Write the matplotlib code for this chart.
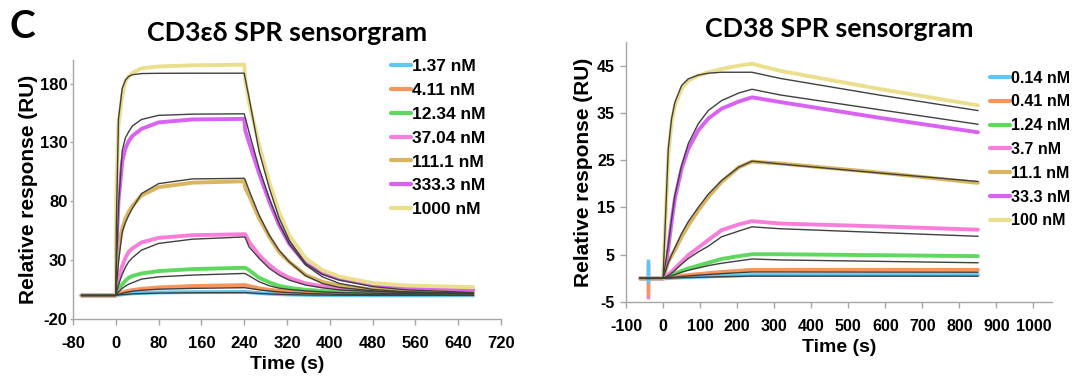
import matplotlib
matplotlib.use("Agg")
import matplotlib.pyplot as plt

plt.rcParams['font.family'] = ['Liberation Sans', 'DejaVu Sans']
plt.rcParams['font.weight'] = 'bold'
plt.rcParams['axes.unicode_minus'] = False

# ---- CD3ed panel: time points (s) and responses (RU)
cd3_t = [-64, 0, 1, 5, 12, 18, 24, 31, 48, 80, 143, 240,
         242, 249, 268, 287, 305, 324, 355, 386, 418, 480, 542, 668]

cd3_1p37 = [0, 0, 0.1, 0.5, 0.9, 1.2, 1.5, 1.7, 2.1, 2.5, 2.8, 3,
            3, 2.7, 2, 1.5, 1.1, 0.8, 0.5, 0.3, 0.2, 0.1, 0.1, 0.1]
cd3_4p11 = [0, 0, 0.3, 1.5, 2.5, 3.3, 4, 4.6, 5.6, 6.8, 8, 8.8,
            8.8, 8, 6, 4.8, 3.9, 3.2, 2.7, 2.3, 2, 1.6, 1.3, 1]
cd3_12p34 = [0, 0, 0.8, 5, 9.5, 12.5, 15, 16.5, 18.7, 20.7, 22.4, 23.5,
             23.5, 21.5, 15, 11.1, 8.2, 6.5, 4.8, 3.8, 3.1, 2.6, 2.2, 1.8]
cd3_37p04 = [0, 0, 2, 14, 25, 32, 37, 40, 45, 48.9, 51.2, 52,
             52, 45.5, 34.2, 25.8, 19.6, 15, 10.2, 7.8, 6, 4.4, 3.5, 2.7]
cd3_111p1 = [0, 0, 23, 40, 57, 65, 71, 76, 85, 92, 95.8, 97,
             91, 85, 65.3, 49.7, 37, 28.6, 17.3, 11.6, 8.2, 5.1, 3.8, 3]
cd3_333p3 = [0, 0, 37, 80, 114, 125, 131, 135.5, 141.5, 147, 149.5, 150,
             140, 130, 103.5, 79.5, 60, 44, 27, 18.7, 14, 9, 7, 5]
cd3_1000 = [0, 0, 88, 145, 170, 182, 186, 189, 193, 194.5, 195.5, 196,
            183, 164, 127.5, 96, 71, 51, 31.5, 21.5, 16, 10.5, 8.5, 7]

cd3_fit_1p37 = [0, 0, 0.1, 0.4, 0.7, 0.9, 1.1, 1.3, 1.6, 2, 2.3, 2.4,
                2.4, 2.2, 1.7, 1.3, 1, 0.7, 0.4, 0.3, 0.2, 0.1, 0.1, 0.1]
cd3_fit_4p11 = [0, 0, 0.2, 1, 1.8, 2.5, 3, 3.6, 4.4, 5.3, 6, 6.6,
                6.5, 6, 4.8, 3.8, 3, 2.4, 1.8, 1.3, 1, 0.7, 0.5, 0.4]
cd3_fit_12p34 = [0, 0, 0.5, 3, 6, 8, 9.5, 10.8, 13.9, 15.8, 17.3, 18.7,
                 18.5, 16.7, 11.6, 8.2, 6.2, 5.1, 3.9, 3, 2.4, 1.9, 1.6, 1.5]
cd3_fit_37p04 = [0, 0, 2, 9, 18, 24, 28.6, 32, 38.5, 44.2, 47.8, 49.7,
                 49, 41.3, 31.4, 23, 17.3, 13, 8.8, 6.5, 4.7, 3.3, 2.7, 2.2]
cd3_fit_111p1 = [0, 0, 6, 28, 54, 62, 68, 74, 86.5, 95, 99, 99.5,
                 98, 89.3, 68, 51, 38.5, 28.6, 16.7, 10.2, 6.8, 3.9, 2.7, 1.8]
cd3_fit_333p3 = [0, 0, 20, 76, 123, 134, 139, 144, 149.5, 153, 154, 154.3,
                 151, 138.7, 107.7, 82.3, 61, 44, 25.8, 15.8, 10.2, 5.1, 3.1, 1.5]
cd3_fit_1000 = [0, 0, 60, 150, 176, 183, 186, 187.5, 188.5, 188.7, 188.8, 188.8,
                184, 168, 122, 91, 66, 47, 27, 18, 13, 7.5, 4.8, 2.5]

cd3_labels = ["1.37 nM", "4.11 nM", "12.34 nM", "37.04 nM",
              "111.1 nM", "333.3 nM", "1000 nM"]

# ---- CD38 panel
cd38_t = [-62, 0, 14, 23, 32, 50, 68, 95, 122, 158, 204, 240, 316, 582, 850]

cd38_0p14 = [0, 0, 0.05, 0.1, 0.13, 0.2, 0.26, 0.33, 0.4, 0.5, 0.6, 0.7, 0.7, 0.7, 0.7]
cd38_0p41 = [0, 0, 0.15, 0.25, 0.35, 0.55, 0.7, 0.9, 1.1, 1.35, 1.6, 1.8, 1.8, 1.8, 1.8]
cd38_1p24 = [0, 0, 0.4, 0.7, 1, 1.6, 2.1, 2.7, 3.3, 4.1, 4.7, 5.1, 5.1, 4.9, 4.7]
cd38_3p7 = [0, 0, 0.8, 1.4, 2.1, 3.5, 4.9, 6.5, 8.1, 10.2, 11.4, 12.1, 11.6, 11, 10.3]
cd38_11p1 = [0, 0, 3.5, 4.8, 6, 8.8, 11.2, 14.4, 17.2, 20.4, 23.5, 24.7, 24.3, 22.4, 20.2]
cd38_33p3 = [0, 0, 6.3, 12, 16.9, 23.2, 27.4, 31.3, 33.8, 35.9, 37.4, 38.3, 37.3, 34, 30.9]
cd38_100 = [0, 0, 26, 33, 36.6, 40.1, 41.8, 42.9, 43.6, 44.3, 45, 45.4, 43.9, 40.1, 36.6]

cd38_fit_0p14 = [0, 0, 0.04, 0.07, 0.1, 0.14, 0.18, 0.23, 0.28, 0.35, 0.42, 0.48, 0.48, 0.47, 0.46]
cd38_fit_0p41 = [0, 0, 0.1, 0.2, 0.27, 0.4, 0.52, 0.68, 0.82, 1, 1.2, 1.35, 1.35, 1.32, 1.3]
cd38_fit_1p24 = [0, 0, 0.3, 0.55, 0.8, 1.3, 1.7, 2.2, 2.7, 3.2, 3.7, 4.1, 3.9, 3.6, 3.3]
cd38_fit_3p7 = [0, 0, 0.6, 1.1, 1.7, 3, 4.2, 5.6, 6.8, 8.8, 10, 10.9, 10.5, 9.7, 8.9]
cd38_fit_11p1 = [0, 0, 3.3, 5, 6.5, 9.5, 12, 15, 17.8, 20.7, 23.5, 24.8, 24.2, 22.3, 20.5]
cd38_fit_33p3 = [0, 0, 7, 12.5, 17.6, 23.9, 28.5, 32.7, 35.5, 37.6, 39.2, 40, 38.8, 35.7, 32.6]
cd38_fit_100 = [0, 0, 27.4, 33.8, 37.3, 40.8, 42.2, 43, 43.4, 43.6, 43.6, 43.6, 42.3, 38.8, 35.5]

cd38_labels = ["0.14 nM", "0.41 nM", "1.24 nM", "3.7 nM",
               "11.1 nM", "33.3 nM", "100 nM"]

# injection spike in the CD38 baseline
spike_t = -40
spike_series = [3, 5, 1, 0]          # pink, magenta, orange, blue
spike_low = [-4.3, -2.8, -3.8, -1.0]
spike_high = [-3.4, 3.2, 3.0, 4.2]

colors = ['#5EC8F2', '#F8955A', '#5ED85E', '#F77FD9',
          '#D9B55F', '#DA62F2', '#EADF8C']
fit_color = '#404040'
spine_color = '#A6A6A6'


def draw_panel(ax, t, data, fits, labels, xticks, yticks, xlim, ylim,
               ytick_len, ytick_pad, tick_size, ylabel_pad):
    for d, c, lab in zip(data, colors, labels):
        ax.plot(t, d, color=c, lw=2.8, solid_capstyle='round', label=lab, zorder=2)
    for f in fits:
        ax.plot(t, f, color=fit_color, lw=1.0, zorder=3)
    ax.set_xlim(xlim)
    ax.set_ylim(ylim)
    ax.set_xticks(xticks)
    ax.set_yticks(yticks)
    for s in ['top', 'right']:
        ax.spines[s].set_visible(False)
    for s in ['left', 'bottom']:
        ax.spines[s].set_color(spine_color)
        ax.spines[s].set_linewidth(1.0)
    ax.tick_params(colors=spine_color, labelcolor='black', labelsize=tick_size, width=1.0)
    ax.tick_params(axis='x', length=4, pad=8.5)
    ax.tick_params(axis='y', length=ytick_len, pad=ytick_pad)
    for lbl in ax.get_xticklabels() + ax.get_yticklabels():
        lbl.set_fontweight('bold')
    ax.set_xlabel('Time (s)', fontsize=14, fontweight='bold', labelpad=3)
    ax.set_ylabel('Relative response (RU)', fontsize=15, fontweight='bold',
                  labelpad=ylabel_pad)


fig = plt.figure(figsize=(10.72, 3.76), dpi=100)

axL = fig.add_axes([0.0681, 0.1516, 0.3993, 0.6888])
draw_panel(axL, cd3_t,
           [cd3_1p37, cd3_4p11, cd3_12p34, cd3_37p04, cd3_111p1, cd3_333p3, cd3_1000],
           [cd3_fit_1p37, cd3_fit_4p11, cd3_fit_12p34, cd3_fit_37p04,
            cd3_fit_111p1, cd3_fit_333p3, cd3_fit_1000],
           cd3_labels, range(-80, 721, 80), [-20, 30, 80, 130, 180],
           (-80, 720), (-20, 200), 2.5, 1.5, 12, 1.5)

axR = fig.add_axes([0.584, 0.1968, 0.3973, 0.6915])
cd38_data = [cd38_0p14, cd38_0p41, cd38_1p24, cd38_3p7, cd38_11p1, cd38_33p3, cd38_100]
draw_panel(axR, cd38_t, cd38_data,
           [cd38_fit_0p14, cd38_fit_0p41, cd38_fit_1p24, cd38_fit_3p7,
            cd38_fit_11p1, cd38_fit_33p3, cd38_fit_100],
           cd38_labels, range(-100, 1001, 100), range(-5, 46, 10),
           (-100, 1050), (-5, 50), 4.5, 3.5, 11.5, 2.5)
for i, lo, hi in zip(spike_series, spike_low, spike_high):
    axR.vlines(spike_t, lo, hi, color=colors[i], lw=2.5, zorder=2)

title_font = ['Lato', 'Open Sans', 'DejaVu Sans']
axL.set_title('CD3εδ SPR sensorgram', fontsize=19.3, fontweight='bold',
              family=title_font, pad=14)
axR.set_title('CD38 SPR sensorgram', fontsize=19.3, fontweight='bold',
              family=title_font, pad=3.5)
fig.text(0.009, 0.975, 'C', fontsize=28, fontweight='bold', family=title_font,
         ha='left', va='top')

leg_kw = dict(loc='upper left', frameon=False, handletextpad=0.05,
              borderpad=0, borderaxespad=0)
legL = axL.legend(bbox_to_anchor=(0.3647, 0.843), bbox_transform=fig.transFigure,
                  fontsize=12.5, handlelength=1.16, labelspacing=0.5, **leg_kw)
legR = axR.legend(bbox_to_anchor=(0.9235, 0.812), bbox_transform=fig.transFigure,
                  fontsize=11.5, handlelength=1.25, labelspacing=0.55, **leg_kw)
for leg in (legL, legR):
    for h in leg.get_lines():
        h.set_linewidth(3.0)
    for txt in leg.get_texts():
        txt.set_fontweight('bold')

fig.savefig('out.png', dpi=100)
